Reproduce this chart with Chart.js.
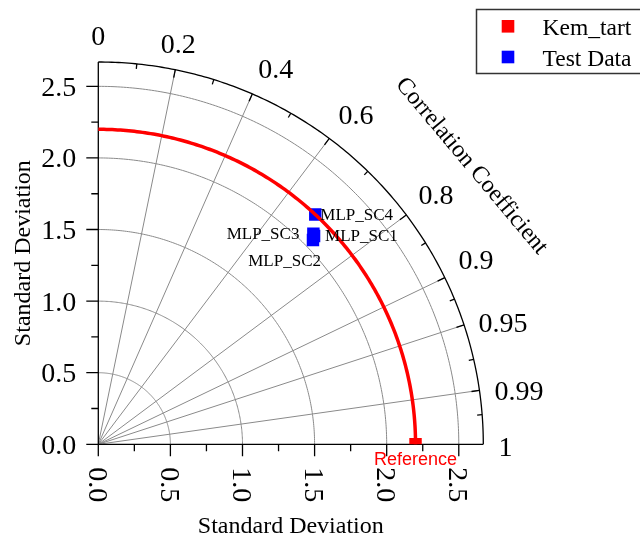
<!DOCTYPE html>
<html>
<head>
<meta charset="utf-8">
<script src="https://cdn.jsdelivr.net/npm/chart.js@4.4.0/dist/chart.umd.min.js"></script>
<style>
  html, body { margin: 0; padding: 0; background: #fff; }
  #wrap { width: 640px; height: 541px; }
</style>
</head>
<body>
<div id="wrap"><canvas id="taylor" width="640" height="541"></canvas></div>
<script>
// model statistics
const models = ['MLP_SC1', 'MLP_SC2', 'MLP_SC3', 'MLP_SC4'];
const modelStd = [2.087, 2.062, 2.095, 2.200];
const modelCorr = [0.717, 0.722, 0.712, 0.684];
const refStd = 2.2;

// axes
const stdMax = 2.67;
const stdTicks = [0.0, 0.5, 1.0, 1.5, 2.0, 2.5];
const stdMinorTicks = [0.25, 0.75, 1.25, 1.75, 2.25];
const corrTicks = [0, 0.2, 0.4, 0.6, 0.8, 0.9, 0.95, 0.99, 1];
const corrMinorTicks = [0.1, 0.3, 0.5, 0.7, 0.85, 0.925, 0.975, 0.997];
const corrGrid = [0.2, 0.4, 0.6, 0.8, 0.9, 0.95, 0.99];

// where each point label sits relative to its marker (px)
const labelPlace = [
  { dx: 11, dy: 5, align: 'left' },
  { dx: 8, dy: 26, align: 'right' },
  { dx: -14, dy: 5, align: 'right' },
  { dx: 5, dy: 5, align: 'left' }
];

const SERIF = "'Liberation Serif', 'Times New Roman', serif";
const SANS = "'Liberation Sans', Arial, sans-serif";

function toXY(s, c) {
  return { x: s * c, y: s * Math.sqrt(1 - c * c) };
}

const testPoints = models.map((m, i) => toXY(modelStd[i], modelCorr[i]));

// polar -> pixel through the chart scales
function px(chart, r, theta) {
  const xs = chart.scales.x, ys = chart.scales.y;
  return { x: xs.getPixelForValue(r * Math.cos(theta)), y: ys.getPixelForValue(r * Math.sin(theta)) };
}

function arc(chart, r, color, width) {
  const ctx = chart.ctx;
  ctx.save();
  ctx.strokeStyle = color;
  ctx.lineWidth = width;
  ctx.beginPath();
  for (let i = 0; i <= 180; i++) {
    const p = px(chart, r, (Math.PI / 2) * i / 180);
    if (i === 0) ctx.moveTo(p.x, p.y); else ctx.lineTo(p.x, p.y);
  }
  ctx.stroke();
  ctx.restore();
}

const taylorPlugin = {
  id: 'taylor',
  beforeDatasetsDraw(chart) {
    const ctx = chart.ctx;
    const xs = chart.scales.x, ys = chart.scales.y;
    const x0 = xs.getPixelForValue(0), y0 = ys.getPixelForValue(0);

    // std dev arcs
    stdTicks.slice(1).forEach(s => arc(chart, s, '#8a8a8a', 1));

    // correlation rays
    ctx.save();
    ctx.strokeStyle = '#8a8a8a';
    ctx.lineWidth = 1;
    corrGrid.forEach(c => {
      const p = px(chart, stdMax, Math.acos(c));
      ctx.beginPath();
      ctx.moveTo(x0, y0);
      ctx.lineTo(p.x, p.y);
      ctx.stroke();
    });
    ctx.restore();

    // outer arc
    arc(chart, stdMax, '#000', 1.3);

    ctx.save();
    ctx.strokeStyle = '#000';
    ctx.lineWidth = 1.3;
    // axes
    ctx.beginPath();
    ctx.moveTo(x0, ys.getPixelForValue(stdMax));
    ctx.lineTo(x0, y0);
    ctx.lineTo(xs.getPixelForValue(stdMax), y0);
    ctx.stroke();

    // std ticks on both axes
    const tick = (v, len) => {
      const x = xs.getPixelForValue(v), y = ys.getPixelForValue(v);
      ctx.beginPath();
      ctx.moveTo(x, y0); ctx.lineTo(x, y0 + len);
      ctx.moveTo(x0, y); ctx.lineTo(x0 - len, y);
      ctx.stroke();
    };
    stdTicks.forEach(v => tick(v, 12));
    stdMinorTicks.forEach(v => tick(v, 7));

    // correlation ticks, pointing inward
    const ctick = (c, len) => {
      const th = Math.acos(c);
      const a = px(chart, stdMax, th);
      ctx.beginPath();
      ctx.moveTo(a.x, a.y);
      ctx.lineTo(a.x - len * Math.cos(th), a.y + len * Math.sin(th));
      ctx.stroke();
    };
    corrTicks.slice(1, -1).forEach(c => ctick(c, 8));
    corrMinorTicks.forEach(c => ctick(c, 5));
    ctx.restore();

    // tick labels
    ctx.save();
    ctx.fillStyle = '#000';
    ctx.font = '28px ' + SERIF;
    ctx.textBaseline = 'alphabetic';
    stdTicks.forEach(v => {
      const y = ys.getPixelForValue(v);
      ctx.textAlign = 'right';
      ctx.fillText(v.toFixed(1), x0 - 22, y + 9.5);
      const x = xs.getPixelForValue(v);
      ctx.save();
      ctx.translate(x, y0 + 23);
      ctx.rotate(Math.PI / 2);
      ctx.textAlign = 'left';
      ctx.fillText(v.toFixed(1), 0, 9.5);
      ctx.restore();
    });

    const rLab = 2.775;
    corrTicks.forEach(c => {
      const th = Math.acos(c);
      const deg = th * 180 / Math.PI;
      const a = px(chart, rLab, th);
      ctx.textAlign = deg > 75 ? 'center' : 'left';
      const yy = deg < 20 ? a.y + 11.5 : a.y - 2;
      ctx.fillText(String(c), a.x, yy);
    });

    // axis titles
    ctx.font = '24px ' + SERIF;
    ctx.textAlign = 'center';
    ctx.fillText('Standard Deviation', (chart.chartArea.left + chart.chartArea.right) / 2, 533);
    ctx.save();
    ctx.translate(30, (chart.chartArea.top + chart.chartArea.bottom) / 2);
    ctx.rotate(-Math.PI / 2);
    ctx.fillText('Standard Deviation', 0, 0);
    ctx.restore();
    ctx.save();
    ctx.translate(471.5, 166);
    ctx.rotate(50 * Math.PI / 180);
    ctx.textBaseline = 'middle';
    ctx.fillText('Correlation Coefficient', 0, 0);
    ctx.restore();

    // legend
    ctx.strokeStyle = '#333';
    ctx.lineWidth = 1.5;
    ctx.strokeRect(476.5, 9.5, 200, 64);
    ctx.fillStyle = '#ff0000';
    ctx.fillRect(501.7, 20, 12.6, 12.6);
    ctx.fillStyle = '#0000ff';
    ctx.fillRect(501.7, 50.7, 12.6, 12.6);
    ctx.fillStyle = '#000';
    ctx.font = '23.5px ' + SERIF;
    ctx.textAlign = 'left';
    ctx.textBaseline = 'alphabetic';
    ctx.fillText(chart.data.datasets[0].label, 542.5, 35);
    ctx.fillText(chart.data.datasets[1].label, 542.5, 65.5);
    ctx.restore();
  },
  afterDatasetsDraw(chart) {
    const ctx = chart.ctx;
    // reference std arc
    arc(chart, refStd, '#ff0000', 3.5);

    ctx.save();
    ctx.fillStyle = '#000';
    ctx.font = '17px ' + SERIF;
    const meta = chart.getDatasetMeta(1);
    models.forEach((m, i) => {
      const el = meta.data[i];
      const lp = labelPlace[i];
      ctx.textAlign = lp.align;
      ctx.fillText(m, el.x + lp.dx, el.y + lp.dy);
    });
    const ref = chart.getDatasetMeta(0).data[0];
    ctx.fillStyle = '#ff0000';
    ctx.font = '18px ' + SANS;
    ctx.textAlign = 'center';
    ctx.fillText('Reference', ref.x, ref.y + 20.5);
    ctx.restore();
  }
};

new Chart(document.getElementById('taylor'), {
  type: 'scatter',
  data: {
    datasets: [
      {
        label: 'Kem_tart',
        data: [{ x: refStd, y: 0 }],
        pointStyle: 'rect',
        pointRadius: 8.8,
        backgroundColor: '#ff0000',
        borderWidth: 0,
        clip: 0
      },
      {
        label: 'Test Data',
        data: testPoints,
        pointStyle: 'rect',
        pointRadius: 8.8,
        backgroundColor: '#0000ff',
        borderWidth: 0
      }
    ]
  },
  options: {
    responsive: false,
    animation: false,
    layout: { padding: { left: 98.3, right: 156.7, top: 62, bottom: 96.7 } },
    scales: {
      x: { type: 'linear', min: 0, max: stdMax, display: false },
      y: { type: 'linear', min: 0, max: stdMax, display: false }
    },
    plugins: {
      legend: { display: false },
      tooltip: { enabled: false }
    }
  },
  plugins: [taylorPlugin]
});
</script>
</body>
</html>
